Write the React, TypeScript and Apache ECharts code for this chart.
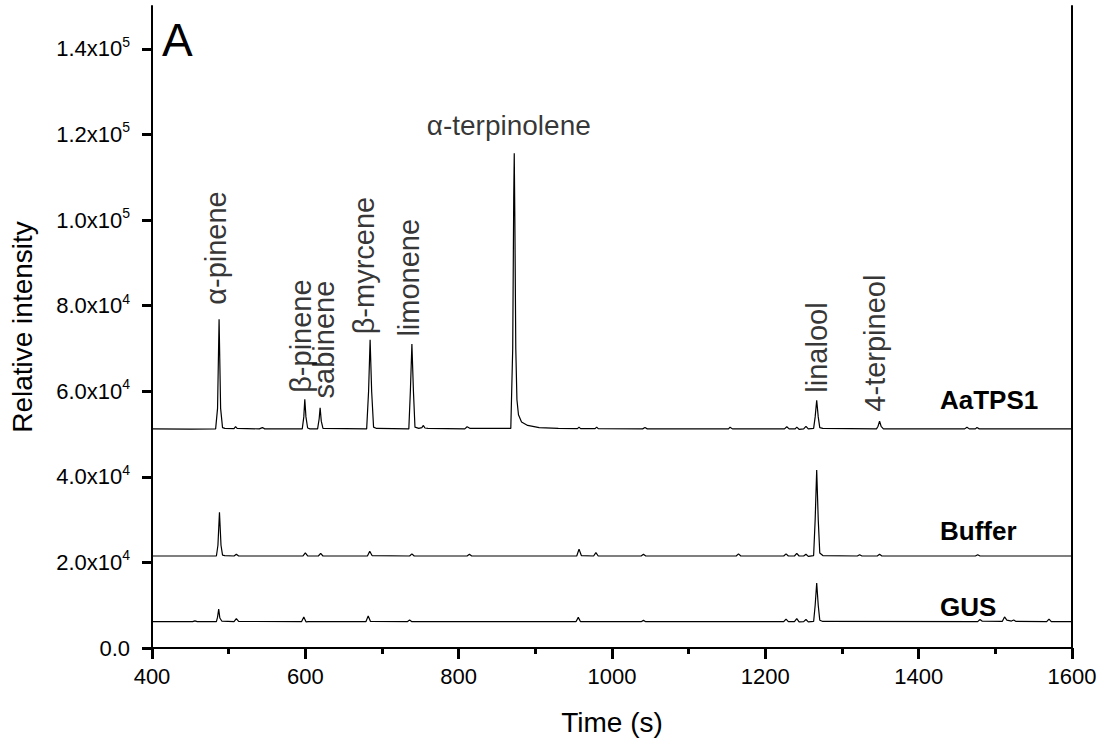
import React, { useEffect, useRef } from "react";
import * as echarts from "echarts";

// ---- data (time in s, relative intensity) ----
const aatps1: [number, number][] = [
  [400, 51200], [450, 51150], [483, 51200], [485.5, 56000], [487.5, 76800], [489.5, 56000], [492, 51500], [495, 51300],
  [507, 51250], [509, 51700], [511, 51300], [540, 51200], [544, 51500], [547, 51200],
  [596, 51200], [598, 54000], [599.3, 58100], [600.8, 54000], [603, 51400], [606, 51200],
  [616, 51200], [618, 53500], [619.3, 56100], [620.8, 53000], [623, 51300],
  [680, 51200], [682.5, 60000], [684.5, 72000], [686.5, 60000], [689, 51600], [693, 51300],
  [735, 51200], [737, 60000], [739, 71000], [741, 60000], [743, 51600], [748, 51300],
  [752, 51500], [754, 52000], [756, 51400], [760, 51300],
  [808, 51200], [811, 51700], [815, 51300],
  [868, 51300], [870.5, 70000], [871.8, 105000], [872.5, 115600], [873.3, 100000], [874.5, 70000], [876, 58000], [878, 54500], [882, 52800], [890, 52000], [905, 51500], [930, 51300],
  [955, 51250], [957, 51600], [959, 51250], [978, 51250], [980, 51600], [982, 51250],
  [1040, 51200], [1043, 51500], [1046, 51200], [1152, 51200], [1154, 51600], [1157, 51200],
  [1225, 51200], [1228, 51700], [1231, 51200], [1239, 51200], [1241, 51600], [1244, 51100],
  [1250, 51200], [1253, 51800], [1256, 51200], [1263, 51300], [1265, 54000], [1267, 57900], [1269, 54000], [1271, 51500], [1275, 51300],
  [1345, 51200], [1347, 51800], [1349, 53000], [1351, 51800], [1354, 51200],
  [1460, 51200], [1463, 51600], [1466, 51200], [1474, 51200], [1476, 51500], [1479, 51200], [1600, 51200],
];

const buffer: [number, number][] = [
  [400, 21500], [484, 21500], [486, 24000], [488, 31700], [490, 24000], [492, 21700], [495, 21600],
  [507, 21500], [510, 21900], [513, 21500], [597, 21500], [600, 22200], [603, 21500],
  [617, 21500], [620, 22100], [623, 21500], [681, 21500], [684, 22600], [687, 21600],
  [736, 21500], [739, 22000], [742, 21500], [811, 21500], [814, 21900], [817, 21500],
  [954, 21500], [957, 23100], [960, 21600], [976, 21500], [979, 22300], [982, 21500],
  [1038, 21500], [1041, 21900], [1044, 21500], [1162, 21500], [1165, 22000], [1168, 21500],
  [1224, 21500], [1227, 22000], [1230, 21500], [1238, 21500], [1241, 22100], [1244, 21500],
  [1250, 21500], [1253, 21900], [1256, 21400], [1263, 21600], [1265, 30000], [1267, 41600], [1269, 30000], [1271, 22200], [1275, 21600],
  [1320, 21500], [1323, 21800], [1326, 21500], [1346, 21500], [1349, 21900], [1352, 21500],
  [1474, 21500], [1477, 21800], [1480, 21500], [1600, 21500],
];

const gus: [number, number][] = [
  [400, 6150], [453, 6150], [456, 6350], [459, 6150], [484, 6150], [485.5, 7200], [487, 9100], [488.5, 7000], [491, 6300],
  [507, 6150], [510, 6850], [513, 6200], [595, 6150], [598, 7250], [601, 6100], [604, 6150],
  [679, 6150], [682, 7500], [685, 6200], [733, 6150], [736, 6550], [739, 6150],
  [953, 6150], [956, 7150], [959, 6150], [1038, 6150], [1041, 6450], [1044, 6150],
  [1224, 6150], [1227, 6750], [1230, 6150], [1238, 6150], [1241, 6850], [1244, 6100],
  [1250, 6150], [1253, 6650], [1256, 6100], [1263, 6200], [1265, 10000], [1267, 15200], [1269, 10000], [1271, 6500], [1275, 6200],
  [1477, 6150], [1480, 6650], [1483, 6250], [1509, 6200], [1512, 7250], [1515, 6500], [1521, 6300], [1524, 6550], [1527, 6200],
  [1567, 6150], [1570, 6750], [1573, 6150], [1600, 6150],
];

const peakNames = ["α-pinene", "β-pinene", "sabinene", "β-myrcene", "limonene", "α-terpinolene", "linalool", "4-terpineol"];
const peakTimes = [487.5, 599.3, 619.3, 684.5, 739, 872.5, 1267, 1349];
const peakHeights = [76800, 58100, 56100, 72000, 71000, 115600, 57900, 53000];

const sampleNames = ["AaTPS1", "Buffer", "GUS"];
const yTicks = [0, 20000, 40000, 60000, 80000, 100000, 120000, 140000];
const X_MIN = 400;
const X_MAX = 1600;
const Y_MIN = 0;
const Y_MAX = 150000;

// label offsets (style only): [dx, gap]
const labelOffsets: [number, number][] = [
  [-3, 14], [-3, 6], [4, 9], [-6, 5], [-2, 7], [-5, 27], [1, 7], [-4, 9],
];
const samplePos: [number, number][] = [[940, 400], [940, 531], [940, 607]];

const FONT = "'Liberation Sans', Arial, Helvetica, sans-serif";

export default function App() {
  const ref = useRef<HTMLDivElement>(null);
  useEffect(() => {
    if (!ref.current) return;
    const chart = echarts.init(ref.current, undefined, { renderer: "svg" });
    const lineStyle = { color: "#000", width: 1.2 };
    const labelData = peakNames.map((n, i) => {
      const horizontal = n === "α-terpinolene";
      const [dx, gap] = labelOffsets[i];
      return {
        value: [peakTimes[i], peakHeights[i]],
        name: n,
        label: horizontal
          ? { rotate: 0, align: "center", verticalAlign: "middle", position: [dx, -gap], fontSize: 28, color: "#000" }
          : { rotate: 90, align: "left", verticalAlign: "middle", position: [dx, -gap], fontSize: 29, color: "#000" },
      };
    });
    chart.setOption({
      animation: false,
      textStyle: { fontFamily: FONT, color: "#000" },
      grid: { left: 151, right: 37, top: 6, bottom: 96 },
      xAxis: [
        {
          type: "value",
          min: X_MIN,
          max: X_MAX,
          interval: 200,
          name: "Time (s)",
          nameLocation: "middle",
          nameGap: 60,
          nameTextStyle: { fontSize: 28, color: "#000", fontFamily: FONT },
          axisLine: { show: true, lineStyle: { color: "#000", width: 2 } },
          axisTick: { show: true, length: 11, lineStyle: { color: "#000", width: 3 } },
          minorTick: { show: true, splitNumber: 2, length: 6, lineStyle: { color: "#000", width: 3 } },
          axisLabel: { fontSize: 22, color: "#000", margin: 17, fontFamily: FONT, formatter: (v: number) => String(v) },
          splitLine: { show: false },
        },
        {
          type: "value",
          position: "top",
          min: X_MIN,
          max: X_MAX,
          interval: 200,
          axisLine: { show: true, lineStyle: { color: "#000", width: 2 } },
          axisTick: { show: true, inside: true, length: 5, lineStyle: { color: "#000", width: 2 } },
          minorTick: { show: true, splitNumber: 2, length: 5, lineStyle: { color: "#000", width: 2 } },
          axisLabel: { show: false },
          splitLine: { show: false },
        },
      ],
      yAxis: [
        {
          type: "value",
          min: Y_MIN,
          max: Y_MAX,
          interval: 20000,
          name: "Relative intensity",
          nameLocation: "middle",
          nameGap: 116,
          nameTextStyle: { fontSize: 28, color: "#000", fontFamily: FONT },
          axisLine: { show: true, lineStyle: { color: "#000", width: 2 } },
          axisTick: { show: true, length: 10, customValues: yTicks, lineStyle: { color: "#000", width: 3 } },
          axisLabel: {
            customValues: yTicks,
            margin: 22,
            color: "#000",
            formatter: (v: number) => {
              if (v === 0) return "{a|0.0}";
              const e = Math.floor(Math.log10(v) + 1e-9);
              const m = v / Math.pow(10, e);
              return `{a|${m.toFixed(1)}x10}{b|${e}}`;
            },
            rich: {
              a: { fontSize: 22, fontFamily: FONT, color: "#000", lineHeight: 28 },
              b: { fontSize: 14, fontFamily: FONT, color: "#000", lineHeight: 14, verticalAlign: "top" },
            },
          },
          splitLine: { show: false },
        },
        {
          type: "value",
          position: "right",
          min: Y_MIN,
          max: Y_MAX,
          axisLine: { show: true, lineStyle: { color: "#000", width: 2 } },
          axisTick: { show: false },
          axisLabel: { show: false },
          splitLine: { show: false },
        },
      ],
      series: [
        { type: "line", name: sampleNames[0], data: aatps1, showSymbol: false, lineStyle },
        { type: "line", name: sampleNames[1], data: buffer, showSymbol: false, lineStyle },
        { type: "line", name: sampleNames[2], data: gus, showSymbol: false, lineStyle },
        {
          type: "scatter",
          data: labelData,
          symbolSize: 1,
          itemStyle: { color: "rgba(0,0,0,0)" },
          silent: true,
          label: {
            show: true,
            formatter: (p: any) => p.name,
            fontSize: 29,
            color: "#000",
            fontFamily: FONT,
          },
        },
      ],
      graphic: [
        { type: "text", left: 162, top: 17, style: { text: "A", fontSize: 46, fontFamily: FONT, fill: "#000" } },
        ...sampleNames.map((n, i) => ({
          type: "text",
          x: samplePos[i][0],
          y: samplePos[i][1],
          style: {
            text: n,
            fontSize: 26,
            fontWeight: "bold",
            fontFamily: FONT,
            fill: "#000",
            verticalAlign: "middle",
          },
        })),
      ],
    });
    return () => chart.dispose();
  }, []);
  return (
    <div
      ref={ref}
      style={{ position: "fixed", left: 0, top: 0, width: 1109, height: 744, background: "#fff" }}
    />
  );
}
